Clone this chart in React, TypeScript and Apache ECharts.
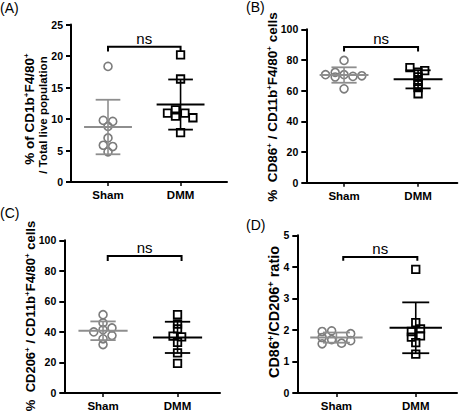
import React, { useEffect, useRef } from 'react';
import * as echarts from 'echarts';

const categories = ['Sham', 'DMM'];
const FONT = 'Liberation Sans, Arial, Helvetica, sans-serif';

// Panel A: % CD1b+F4/80+ / total live population
const aShamValues = [18.35, 9.78, 9.62, 8.83, 7.0, 5.83, 5.63, 4.78];
const aShamJitter = [0, -0.065, 0.065, 0, 0, -0.065, 0.065, 0];
const aDmmValues = [20.19, 16.35, 10.93, 11.46, 10.46, 10.93, 10.2, 7.83];
const aDmmJitter = [0, 0, -0.18, -0.07, -0.07, 0.06, 0.17, 0];
const aYTicks = [0, 5, 10, 15, 20, 25];
const aBracket = [1, 2, 21.45, 20.7];

// Panel B: % CD86+ / CD11b+F4/80+ cells
const bShamValues = [70.4, 71.9, 68.9, 79.7, 70.4, 61.2, 69.3, 69.7];
const bShamJitter = [-0.25, -0.12, -0.12, 0, 0, 0, 0.12, 0.24];
const bDmmValues = [75, 73, 72, 69, 66, 64, 62, 58];
const bDmmJitter = [-0.11, 0.09, 0, 0, 0, 0, 0, 0];
const bYTicks = [0, 20, 40, 60, 80, 100];
const bBracket = [1, 2, 88.5, 85.6];

// Panel C: % CD206+ / CD11b+F4/80+ cells
const cShamValues = [51.3, 45.9, 40.0, 41.5, 42.6, 37.6, 35.5, 31.7];
const cShamJitter = [0, 0, -0.125, 0, 0.12, 0.12, 0, 0];
const cDmmValues = [51.3, 45.2, 42.0, 37.2, 36.8, 33.2, 26.3, 19.4];
const cDmmJitter = [0, 0, 0, -0.06, 0.055, 0, 0, 0];
const cYTicks = [0, 20, 40, 60, 80, 100];
const cBracket = [1.063, 2.054, 89.8, 86.4];

// Panel D: CD86+/CD206+ ratio
const dShamValues = [1.95, 1.97, 1.76, 1.69, 1.56, 1.58, 1.88, 1.66];
const dShamJitter = [-0.18, -0.06, -0.18, -0.06, -0.18, 0.065, 0.18, 0.18];
const dDmmValues = [3.92, 2.23, 2.03, 1.95, 1.81, 1.77, 1.6, 1.23];
const dDmmJitter = [0, 0, 0.06, -0.055, 0.06, -0.055, 0, 0];
const dYTicks = [0, 1, 2, 3, 4, 5];
const dBracket = [1.086, 2.02, 4.31, 4.19];

const SHAM_COLOR = '#7c7c7c';
const SHAM_LINE = '#8e8e8e';
const DMM_COLOR = '#000000';
const MEAN_HW = 0.33;
const CAP_HW = 0.17;

const mean = (a: number[]) => a.reduce((s, v) => s + v, 0) / a.length;
const sd = (a: number[]) => {
  const m = mean(a);
  return Math.sqrt(a.reduce((s, v) => s + (v - m) * (v - m), 0) / (a.length - 1));
};

const panels = [
  { grid: { left: 71, top: 24.5, width: 156, height: 157.5 }, xMin: 0.49, xMax: 2.64,
    sham: aShamValues, shamJ: aShamJitter, dmm: aDmmValues, dmmJ: aDmmJitter, ticks: aYTicks, bracket: aBracket },
  { grid: { left: 306.3, top: 29.3, width: 151, height: 153.4 }, xMin: 0.49, xMax: 2.53,
    sham: bShamValues, shamJ: bShamJitter, dmm: bDmmValues, dmmJ: bDmmJitter, ticks: bYTicks, bracket: bBracket },
  { grid: { left: 64.3, top: 240.3, width: 155.7, height: 153.4 }, xMin: 0.48, xMax: 2.57,
    sham: cShamValues, shamJ: cShamJitter, dmm: cDmmValues, dmmJ: cDmmJitter, ticks: cYTicks, bracket: cBracket },
  { grid: { left: 297.3, top: 235.3, width: 159.7, height: 158 }, xMin: 0.507, xMax: 2.52,
    sham: dShamValues, shamJ: dShamJitter, dmm: dDmmValues, dmmJ: dDmmJitter, ticks: dYTicks, bracket: dBracket },
];

function meanSdSeries(gi: number, x: number, values: number[], color: string) {
  return {
    type: 'custom', xAxisIndex: gi, yAxisIndex: gi, z: 5, silent: true,
    data: [[x, mean(values), sd(values)]],
    encode: { x: 0, y: 1 },
    renderItem: (_p: any, api: any) => {
      const cx = api.value(0), mv = api.value(1), s = api.value(2);
      const c = (a: number, b: number) => api.coord([a, b]);
      const segs: [number[], number[], number][] = [
        [c(cx - MEAN_HW, mv), c(cx + MEAN_HW, mv), 2],
        [c(cx, mv - s), c(cx, mv + s), 1.6],
        [c(cx - CAP_HW, mv + s), c(cx + CAP_HW, mv + s), 1.8],
        [c(cx - CAP_HW, mv - s), c(cx + CAP_HW, mv - s), 1.8],
      ];
      return {
        type: 'group',
        children: segs.map(([p1, p2, w]) => ({
          type: 'line',
          shape: { x1: p1[0], y1: p1[1], x2: p2[0], y2: p2[1] },
          style: { stroke: color, lineWidth: w },
        })),
      };
    },
  };
}

function bracketSeries(gi: number, b: number[]) {
  return {
    type: 'custom', xAxisIndex: gi, yAxisIndex: gi, z: 6, silent: true,
    data: [b],
    encode: { x: [0, 1], y: [2, 3] },
    renderItem: (_p: any, api: any) => {
      const x1 = api.value(0), x2 = api.value(1), top = api.value(2), tick = api.value(3);
      const p1 = api.coord([x1, tick]), p2 = api.coord([x1, top]);
      const p3 = api.coord([x2, top]), p4 = api.coord([x2, tick]);
      return {
        type: 'group',
        children: [
          { type: 'polyline', shape: { points: [p1, p2, p3, p4] },
            style: { stroke: '#000', lineWidth: 2, fill: null } },
          { type: 'text',
            style: { text: 'ns', x: (p2[0] + p3[0]) / 2, y: p2[1] - 1, align: 'center',
              verticalAlign: 'bottom', fontSize: 15, fontFamily: FONT, fill: '#000' } },
        ],
      };
    },
  };
}

const richBase = (size: number) => ({
  n: { fontSize: size, fontWeight: 'bold', fontFamily: FONT, fill: '#000', color: '#000' },
  s: { fontSize: Math.round(size * 0.62), fontWeight: 'bold', fontFamily: FONT, verticalAlign: 'top', color: '#000' },
});

function titleText(x: number, y: number, text: string, size: number) {
  return {
    type: 'text', x, y, rotation: Math.PI / 2, silent: true,
    style: { text, rich: richBase(size), align: 'center', verticalAlign: 'middle', fill: '#000' },
  };
}

function labelText(x: number, y: number, text: string) {
  return {
    type: 'text', x, y, silent: true,
    style: { text, fontSize: 14, fontFamily: FONT, fill: '#000', align: 'left', verticalAlign: 'middle' },
  };
}

export default function App() {
  const ref = useRef<HTMLDivElement>(null);
  useEffect(() => {
    if (!ref.current) return;
    const chart = echarts.init(ref.current, undefined, { renderer: 'svg' });
    const grids: any[] = [];
    const xAxes: any[] = [];
    const yAxes: any[] = [];
    const series: any[] = [];
    panels.forEach((p, gi) => {
      grids.push({ ...p.grid, containLabel: false });
      xAxes.push({
        type: 'value', gridIndex: gi, min: p.xMin, max: p.xMax,
        splitLine: { show: false },
        axisLine: { show: true, onZero: false, lineStyle: { color: '#000', width: 2 } },
        axisTick: { show: true, customValues: [1, 2], length: 4, lineStyle: { color: '#000', width: 1.5 } },
        axisLabel: {
          customValues: [1, 2], margin: 7, fontSize: 11.5, fontWeight: 'bold', fontFamily: FONT, color: '#000',
          formatter: (v: number) => categories[Math.round(v) - 1] ?? '',
        },
      });
      const t = p.ticks;
      yAxes.push({
        type: 'value', gridIndex: gi, min: t[0], max: t[t.length - 1], interval: t[1] - t[0],
        splitLine: { show: false },
        axisLine: { show: true, onZero: false, lineStyle: { color: '#000', width: 2 } },
        axisTick: { show: true, length: 5, lineStyle: { color: '#000', width: 2 } },
        axisLabel: { margin: 8, fontSize: 10.5, fontWeight: 'bold', fontFamily: FONT, color: '#000' },
      });
      series.push({
        type: 'scatter', xAxisIndex: gi, yAxisIndex: gi, z: 3, silent: true,
        symbol: 'circle', symbolSize: 8,
        itemStyle: { color: 'rgba(255,255,255,0)', borderColor: SHAM_COLOR, borderWidth: 1.6, opacity: 1 },
        data: p.sham.map((v, i) => [1 + p.shamJ[i], v]),
      });
      series.push({
        type: 'scatter', xAxisIndex: gi, yAxisIndex: gi, z: 3, silent: true,
        symbol: 'rect', symbolSize: 7.5,
        itemStyle: { color: 'rgba(255,255,255,0)', borderColor: DMM_COLOR, borderWidth: 1.8, opacity: 1 },
        data: p.dmm.map((v, i) => [2 + p.dmmJ[i], v]),
      });
      series.push(meanSdSeries(gi, 1, p.sham, SHAM_LINE));
      series.push(meanSdSeries(gi, 2, p.dmm, DMM_COLOR));
      series.push(bracketSeries(gi, p.bracket));
    });

    chart.setOption({
      animation: false,
      backgroundColor: '#ffffff',
      grid: grids,
      xAxis: xAxes,
      yAxis: yAxes,
      series,
      graphic: [
        labelText(0, 8, '(A)'),
        labelText(246, 7, '(B)'),
        labelText(0, 213, '(C)'),
        labelText(246, 225, '(D)'),
        titleText(29, 109, '{n|% of CD1b}{s|+}{n|F4/80}{s|+}', 13.5),
        { type: 'text', x: 42.5, y: 115, rotation: Math.PI / 2, silent: true,
          style: { text: '/ Total live population', fontSize: 11.5, fontWeight: 'bold', fontFamily: FONT,
            fill: '#000', align: 'center', verticalAlign: 'middle' } },
        titleText(272, 107, '{n|%  CD86}{s|+}{n| / CD11b}{s|+}{n|F4/80}{s|+}{n| cells}', 13.5),
        titleText(30, 316, '{n|%  CD206}{s|+}{n| / CD11b}{s|+}{n|F4/80}{s|+}{n| cells}', 13),
        titleText(274, 312, '{n|CD86}{s|+}{n|/CD206}{s|+}{n| ratio}', 14.5),
      ],
    });
    return () => chart.dispose();
  }, []);
  return <div ref={ref} style={{ position: 'absolute', left: 0, top: 0, width: 459, height: 412 }} />;
}
